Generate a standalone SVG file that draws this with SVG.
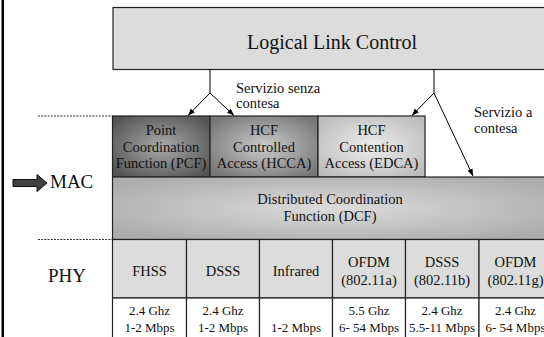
<svg xmlns="http://www.w3.org/2000/svg" width="544" height="337" viewBox="0 0 544 337">
<defs>
<style>
text{font-family:'Liberation Serif','Times New Roman','DejaVu Serif',serif;fill:#111;text-anchor:middle}
.t{font-size:14.5px}
.s{font-size:13px}
.box{stroke:#222;stroke-width:1.2}
.cell{fill:#dcdcdc;stroke:#222;stroke-width:1.2}
.wcell{fill:#fff;stroke:#222;stroke-width:1.2}
.ln{stroke:#000;stroke-width:1;fill:none}
.arr{stroke:#000;stroke-width:1;fill:none;marker-end:url(#ah)}
.dash{stroke:#333;stroke-width:1;stroke-dasharray:2 1.2}
</style>
<marker id="ah" viewBox="0 0 10 10" refX="10" refY="5" markerWidth="7" markerHeight="7" markerUnits="userSpaceOnUse" orient="auto"><path d="M0,1 L10,5 L0,9 z" fill="#000"/></marker>
<radialGradient id="gPCF" cx="0.5" cy="0.5" r="0.62"><stop offset="0" stop-color="#a9a9a9"/><stop offset="1" stop-color="#555"/></radialGradient>
<radialGradient id="gHCCA" cx="0.5" cy="0.5" r="0.62"><stop offset="0" stop-color="#cacaca"/><stop offset="1" stop-color="#777"/></radialGradient>
<radialGradient id="gEDCA" cx="0.5" cy="0.5" r="0.62"><stop offset="0" stop-color="#ededed"/><stop offset="1" stop-color="#bdbdbd"/></radialGradient>
<radialGradient id="gDCF" cx="0.5" cy="0.5" r="0.6"><stop offset="0" stop-color="#dcdcdc"/><stop offset="1" stop-color="#adadad"/></radialGradient>
</defs>
<rect x="0" y="0" width="544" height="337" fill="#fff"/>
<rect x="1.5" y="0" width="2.5" height="337" fill="#000"/>

<g id="dividers">
<line class="dash" x1="38" y1="116" x2="113" y2="116"/>
<line class="dash" x1="38" y1="239.5" x2="113" y2="239.5"/>
</g>

<g id="llc">
<rect class="box" x="113" y="7.5" width="440" height="62" fill="#dcdcdc"/>
<text x="332" y="49" font-family="Liberation Serif, serif" style="font-size:20px">Logical Link Control</text>
</g>

<g id="pcf">
<rect class="box" x="112.5" y="116" width="97.5" height="61" fill="url(#gPCF)"/>
<text class="t" x="161" y="135">Point</text>
<text class="t" x="161" y="151.7">Coordination</text>
<text class="t" x="161" y="168.4">Function (PCF)</text>
</g>
<g id="hcca">
<rect class="box" x="210" y="116" width="108" height="61" fill="url(#gHCCA)"/>
<text class="t" x="264" y="135">HCF</text>
<text class="t" x="264" y="151.7">Controlled</text>
<text class="t" x="264" y="168.4">Access (HCCA)</text>
</g>
<g id="edca">
<rect class="box" x="318" y="116" width="107" height="61" fill="url(#gEDCA)"/>
<text class="t" x="371.5" y="135">HCF</text>
<text class="t" x="371.5" y="151.7">Contention</text>
<text class="t" x="371.5" y="168.4">Access (EDCA)</text>
</g>
<g id="dcf">
<rect class="box" x="112.5" y="177" width="440" height="62.5" fill="url(#gDCF)"/>
<text class="t" x="330" y="203.5">Distributed Coordination</text>
<text class="t" x="330" y="220.5">Function (DCF)</text>
</g>

<g id="mac-label">
<polygon points="13,179.5 37,179.5 37,174.5 47,183 37,191.5 37,186.5 13,186.5" fill="#404040" stroke="#111" stroke-width="1"/>
<text x="50" y="188" style="font-size:19px;text-anchor:start">MAC</text>
</g>
<g id="phy-label">
<text x="67" y="282" style="font-size:19px">PHY</text>
</g>

<g id="phy-fhss">
<rect class="cell" x="112.5" y="239.5" width="74" height="58.5"/>
<text class="t" x="149.5" y="276">FHSS</text>
<rect class="wcell" x="112.5" y="298" width="74" height="50"/>
<text class="s" x="149.5" y="315">2.4 Ghz</text>
<text class="s" x="149.5" y="331.5">1-2 Mbps</text>
</g>
<g id="phy-dsss">
<rect class="cell" x="186.5" y="239.5" width="73" height="58.5"/>
<text class="t" x="223" y="276">DSSS</text>
<rect class="wcell" x="186.5" y="298" width="73" height="50"/>
<text class="s" x="223" y="315">2.4 Ghz</text>
<text class="s" x="223" y="331.5">1-2 Mbps</text>
</g>
<g id="phy-infrared">
<rect class="cell" x="259.5" y="239.5" width="73" height="58.5"/>
<text class="t" x="296" y="276">Infrared</text>
<rect class="wcell" x="259.5" y="298" width="73" height="50"/>
<text class="s" x="296" y="331.5">1-2 Mbps</text>
</g>
<g id="phy-ofdm-a">
<rect class="cell" x="332.5" y="239.5" width="73" height="58.5"/>
<text class="t" x="369" y="266.7">OFDM</text>
<text class="t" x="369" y="285">(802.11a)</text>
<rect class="wcell" x="332.5" y="298" width="73" height="50"/>
<text class="s" x="369" y="315">5.5 Ghz</text>
<text class="s" x="369" y="331.5">6- 54 Mbps</text>
</g>
<g id="phy-dsss-b">
<rect class="cell" x="405.5" y="239.5" width="73.5" height="58.5"/>
<text class="t" x="442" y="266.7">DSSS</text>
<text class="t" x="442" y="285">(802.11b)</text>
<rect class="wcell" x="405.5" y="298" width="73.5" height="50"/>
<text class="s" x="442" y="315">2.4 Ghz</text>
<text class="s" x="442" y="331.5">5.5-11 Mbps</text>
</g>
<g id="phy-ofdm-g">
<rect class="cell" x="479" y="239.5" width="73" height="58.5"/>
<text class="t" x="515.5" y="266.7">OFDM</text>
<text class="t" x="515.5" y="285">(802.11g)</text>
<rect class="wcell" x="479" y="298" width="73" height="50"/>
<text class="s" x="515.5" y="315">2.4 Ghz</text>
<text class="s" x="515.5" y="331.5">6- 54 Mbps</text>
</g>

<g id="connectors">
<line class="ln" x1="210" y1="69.5" x2="210" y2="93"/>
<line class="arr" x1="210" y1="93" x2="188" y2="115.5"/>
<line class="arr" x1="210" y1="93" x2="234" y2="115.5"/>
<line class="ln" x1="434" y1="69.5" x2="434" y2="93"/>
<line class="arr" x1="434" y1="93" x2="412" y2="115.5"/>
<line class="arr" x1="434" y1="93" x2="473" y2="176"/>
</g>

<g id="labels">
<text class="t" x="236" y="93" style="text-anchor:start">Servizio senza</text>
<text class="t" x="236" y="107.5" style="text-anchor:start">contesa</text>
<text class="t" x="474" y="117" style="text-anchor:start">Servizio a</text>
<text class="t" x="474" y="133" style="text-anchor:start">contesa</text>
</g>
</svg>
